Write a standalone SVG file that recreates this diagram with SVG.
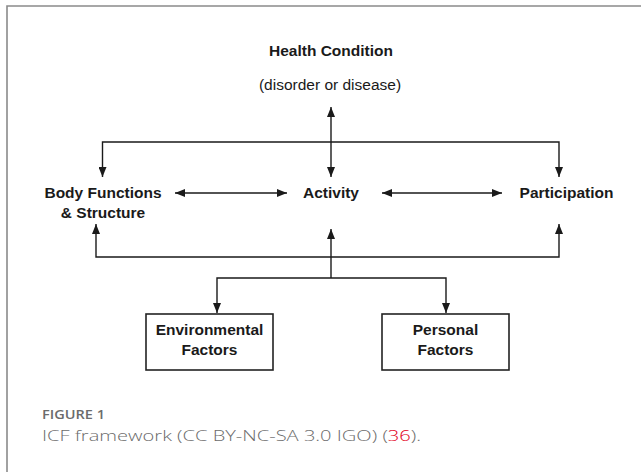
<svg xmlns="http://www.w3.org/2000/svg" width="641" height="472" viewBox="0 0 641 472">
<style>
.lbl{font-family:"Liberation Sans",Arial,sans-serif;font-size:15.5px;font-weight:bold;fill:#1a1a1a;text-anchor:middle}
.sub{font-family:"Liberation Sans",Arial,sans-serif;font-size:15.5px;fill:#1a1a1a;text-anchor:middle}
.con{fill:none;stroke:#1a1a1a;stroke-width:1.4}
.box{fill:#fff;stroke:#222;stroke-width:1.6}
.cap1{font-family:"Open Sans","Liberation Sans",sans-serif;font-size:13px;font-weight:600;fill:#6b6b6b}
.cap2{font-family:"Open Sans","Liberation Sans",sans-serif;font-size:15px;font-weight:300;fill:#6b6b6b}
</style>
<defs>
<marker id="ah" markerUnits="userSpaceOnUse" markerWidth="10" markerHeight="8" refX="10" refY="4" orient="auto-start-reverse">
<path d="M0,0 L10,4 L0,8 z" fill="#1a1a1a"/>
</marker>
</defs>
<rect width="641" height="472" fill="#fff"/>
<path d="M7,472 V6 H641" fill="none" stroke="#8a8a8a" stroke-width="1.6"/>

<g id="connectors">
<line class="con" x1="331" y1="107" x2="331" y2="177" marker-start="url(#ah)" marker-end="url(#ah)"/>
<path class="con" d="M102.5,177 V142 H559 V177" marker-start="url(#ah)" marker-end="url(#ah)"/>
<line class="con" x1="175" y1="193" x2="287" y2="193" marker-start="url(#ah)" marker-end="url(#ah)"/>
<line class="con" x1="382" y1="193" x2="502" y2="193" marker-start="url(#ah)" marker-end="url(#ah)"/>
<path class="con" d="M96,224 V257 H559 V224" marker-start="url(#ah)" marker-end="url(#ah)"/>
<line class="con" x1="331" y1="278" x2="331" y2="229" marker-end="url(#ah)"/>
<path class="con" d="M217,313 V278 H446 V313" marker-start="url(#ah)" marker-end="url(#ah)"/>
</g>

<g id="health">
<text class="lbl" x="331" y="55.5">Health Condition</text>
<text class="sub" x="330" y="90">(disorder or disease)</text>
</g>
<g id="body">
<text class="lbl" x="103" y="198">Body Functions</text>
<text class="lbl" x="103" y="218">&amp; Structure</text>
</g>
<g id="activity">
<text class="lbl" x="331" y="198">Activity</text>
</g>
<g id="participation">
<text class="lbl" x="566.5" y="198">Participation</text>
</g>
<g id="environmental">
<rect class="box" x="146" y="314" width="127" height="56"/>
<text class="lbl" x="209.5" y="335">Environmental</text>
<text class="lbl" x="209.5" y="355">Factors</text>
</g>
<g id="personal">
<rect class="box" x="382" y="314" width="127" height="56"/>
<text class="lbl" x="445.5" y="335">Personal</text>
<text class="lbl" x="445.5" y="355">Factors</text>
</g>

<g id="caption">
<text class="cap1" x="42" y="419" textLength="63" lengthAdjust="spacingAndGlyphs">FIGURE 1</text>
<text class="cap2" x="42" y="441" textLength="379" lengthAdjust="spacingAndGlyphs">ICF framework (CC BY-NC-SA 3.0 IGO) (<tspan fill="#e2001a">36</tspan>).</text>
</g>
</svg>
